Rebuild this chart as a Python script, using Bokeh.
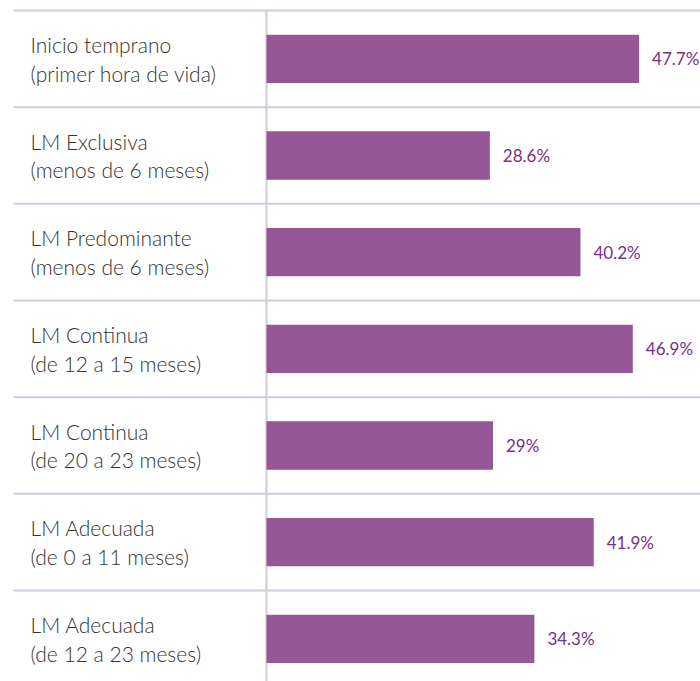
from bokeh.plotting import figure
from bokeh.models import ColumnDataSource, Range1d
from bokeh.embed import file_html
from bokeh.resources import INLINE
from bokeh.core.properties import value

categories = [
    "Inicio temprano\n(primer hora de vida)",
    "LM Exclusiva\n(menos de 6 meses)",
    "LM Predominante\n(menos de 6 meses)",
    "LM Continua\n(de 12 a 15 meses)",
    "LM Continua\n(de 20 a 23 meses)",
    "LM Adecuada\n(de 0 a 11 meses)",
    "LM Adecuada\n(de 12 a 23 meses)",
]
values = [47.7, 28.6, 40.2, 46.9, 29.0, 41.9, 34.3]
labels = ["47.7%", "28.6%", "40.2%", "46.9%", "29%", "41.9%", "34.3%"]

W, H = 700, 681
PX_PER_UNIT = 7.81
X0_PX = 266
XS = -X0_PX / PX_PER_UNIT
XE = (W - X0_PX) / PX_PER_UNIT
ROW = 96.67
TOP_PX = 10

n = len(categories)
rows = [i + 0.5 for i in range(n)]

p = figure(width=W, height=H, output_backend="svg", toolbar_location=None,
           x_range=Range1d(XS, XE),
           y_range=Range1d(start=(H - TOP_PX) / ROW, end=-TOP_PX / ROW),
           min_border=0, outline_line_color=None)
p.axis.visible = False
p.grid.visible = False
p.background_fill_color = "white"

grid_color = "#cfcbdc"
gy = list(range(n + 1))
p.segment(x0=[XS + 13 / PX_PER_UNIT] * len(gy), x1=[XE] * len(gy), y0=gy, y1=gy,
          line_color=grid_color, line_width=2)
p.segment(x0=[0], x1=[0], y0=[0], y1=[n + 0.2], line_color=grid_color, line_width=2)

src = ColumnDataSource(dict(cat=categories, val=values, lab=labels, y=rows,
                            x0=[XS] * n))
p.hbar(y="y", left=0, right="val", height=0.5, source=src,
       fill_color="#955795", line_color=None)

p.text(x="x0", y="y", text="cat", source=src, x_offset=30,
       text_font=value("'Lato Light', Lato"), text_font_size="21px", text_color="#333333",
       text_baseline="middle", text_align="left", text_line_height=1.15)

p.text(x="val", y="y", text="lab", source=src, x_offset=13,
       text_font=value("Lato"), text_font_size="17px", text_color="#7a2f84",
       text_baseline="middle", text_align="left")

open("out.html", "w").write(file_html(p, INLINE))
